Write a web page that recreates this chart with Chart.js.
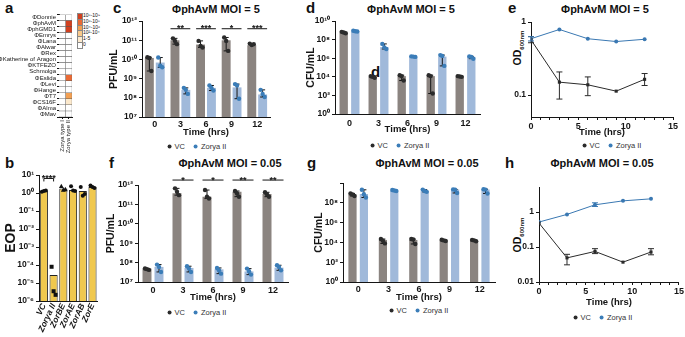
<!DOCTYPE html>
<html>
<head>
<meta charset="utf-8">
<script src="https://cdn.jsdelivr.net/npm/chart.js@4.4.0/dist/chart.umd.min.js"></script>
<style>
  body { margin: 0; background: #fff; width: 685px; height: 337px; overflow: hidden; position: relative;
         font-family: 'Liberation Sans', Arial, Helvetica, sans-serif; color: #111; }
  canvas { position: absolute; }
  .lt { position: absolute; font-weight: bold; font-size: 15px; line-height: 15px; }
  .ttl { position: absolute; font-weight: bold; font-size: 11px; white-space: nowrap; transform: translate(-50%, -50%); }
  .lg { position: absolute; font-size: 7.5px; white-space: nowrap; transform: translate(-50%, -50%); color: #333; }
  .lg i { display: inline-block; width: 4px; height: 4px; border-radius: 50%; margin: 0 3px 0 0; vertical-align: middle; }
  .lg span { margin-right: 9px; }
  .od { position: absolute; font-weight: bold; font-size: 10.5px; white-space: nowrap; transform: translate(-50%, -50%) rotate(-90deg); }
  .od sub { font-size: 6px; }
  .key { position: absolute; left: 77px; top: 13px; font-size: 5px; line-height: 5.8px; }
  .key div { position: relative; height: 5.8px; }
  .key b { position: absolute; left: 0; top: 0; width: 4px; height: 5.3px; border: 0.5px solid #888; }
  .key span { position: absolute; left: 6px; top: 0; white-space: nowrap; }
</style>
</head>
<body>
<div class="lt" style="left:5px;top:0px">a</div>
<div class="lt" style="left:5px;top:155px">b</div>
<div class="lt" style="left:113px;top:0px">c</div>
<div class="lt" style="left:306px;top:0px">d</div>
<div class="lt" style="left:508px;top:0px">e</div>
<div class="lt" style="left:109px;top:155px">f</div>
<div class="lt" style="left:307px;top:155px">g</div>
<div class="lt" style="left:505px;top:155px">h</div>
<div class="lt" style="left:371px;top:64px">d</div>

<div class="ttl" style="left:216px;top:9px">ΦphAvM MOI = 5</div>
<div class="ttl" style="left:411px;top:9px">ΦphAvM MOI = 5</div>
<div class="ttl" style="left:605px;top:9px">ΦphAvM MOI = 5</div>
<div class="ttl" style="left:230px;top:163px">ΦphAvM MOI = 0.05</div>
<div class="ttl" style="left:427px;top:163px">ΦphAvM MOI = 0.05</div>
<div class="ttl" style="left:602px;top:163px">ΦphAvM MOI = 0.05</div>

<div class="lg" style="left:197px;top:146px"><span><i style="background:#2b2b2b"></i>VC</span><i style="background:#3b7db8"></i>Zorya II</div>
<div class="lg" style="left:400px;top:145px"><span><i style="background:#2b2b2b"></i>VC</span><i style="background:#3b7db8"></i>Zorya II</div>
<div class="lg" style="left:612px;top:145px"><span><i style="background:#2b2b2b"></i>VC</span><i style="background:#3b7db8"></i>Zorya II</div>
<div class="lg" style="left:197px;top:312px"><span><i style="background:#2b2b2b"></i>VC</span><i style="background:#3b7db8"></i>Zorya II</div>
<div class="lg" style="left:419px;top:310px"><span><i style="background:#2b2b2b"></i>VC</span><i style="background:#3b7db8"></i>Zorya II</div>
<div class="lg" style="left:603px;top:317px"><span><i style="background:#2b2b2b"></i>VC</span><i style="background:#3b7db8"></i>Zorya II</div>

<div class="od" style="left:518px;top:48px">OD<sub>600nm</sub></div>
<div class="od" style="left:518px;top:235px">OD<sub>600nm</sub></div>

<div class="key" id="key"></div>

<script>
// ---- panel a: heatmap ----
const phages = ['ΦDonnie', 'ΦphAvM', 'ΦphGMD1', 'ΦEmrys', 'ΦLana', 'ΦAlwar', 'ΦRex', 'ΦKatherine of Aragon',
  'ΦKTFEZO', 'Schmolga', 'ΦEslida', 'ΦLevi', 'ΦHange', 'ΦT7', 'ΦCS16F', 'ΦAlma', 'ΦMav'];
const heatCols = ['Zorya type I', 'Zorya type II'];
const typeILevels  = [0, 0, 0, 0, 0, 0, 0, 0, 0, 0, 0, 0, 0, 0, 0, 0, 0];
const typeIILevels = [0, 5, 5, 0, 0, 0, 0, 0, 0, 0, 4, 0, 0, 3, 1, 0, 0];
const heatKey = ['10⁸-10⁹', '10⁶-10⁸', '10⁴-10⁶', '10²-10⁴', '1-5', '0'];   // levels 5..0

// ---- panel b: EOP ----
const eopLabels = ['VC', 'Zorya II', 'ZorBE', 'ZorAE', 'ZorAB', 'ZorE'];
const eopMean = [1.3, 2.8e-5, 1.8, 1.5, 1.3, 2.2];
const eopReps = [[1.2, 1.3, 1.4], [8e-5, 3.5e-6, 2.2e-6], [2.4, 1.5, 1.6], [2.4, 1.4, 1.3], [2.2, 0.7, 0.9], [2.6, 2.2, 1.9]];
const eopTicks = [1e-6, 1e-5, 1e-4, 1e-3, 1e-2, 1e-1, 1, 10];

// ---- shared ----
const times = ['0', '3', '6', '9', '12'];
const lineTimes = [0, 3, 6, 9, 12];
const pfuTicks = [1e7, 1e8, 1e9, 1e10, 1e11, 1e12];
const cfuTicks = [1, 1e2, 1e4, 1e6, 1e8, 1e10];

// ---- panel c: PFU, MOI 5 ----
const cVC = [1.2e10, 1.0e11, 6e10, 1e11, 5.5e10];
const cVCReps = [[1.3e10, 1.2e10, 2.5e9], [1.26e11, 9.3e10, 6.3e10], [9.3e10, 5e10, 4.2e10], [1.4e11, 9.3e10, 2.8e10], [6.7e10, 5.7e10, 6.3e10]];
const cZor = [6.9e9, 2.6e8, 3.3e8, 3.5e8, 1.5e8];
const cZorReps = [[1.26e10, 4.7e9, 3.9e9], [3.3e8, 2.6e8, 1.6e8], [4.4e8, 3.3e8, 2.4e8], [5.2e8, 4.4e8, 9e7], [2.6e8, 1.6e8, 1.1e8]];
const cSig = ['', '**', '***', '*', '***'];

// ---- panel d: CFU, MOI 5 ----
const dVC = [6e8, 1e4, 1.2e4, 1.2e4, 1.1e4];
const dVCReps = [[7e8, 6e8, 5e8], [1.2e4, 1e4, 8e3], [1.5e4, 1.2e4, 4e3], [1.5e4, 1.2e4, 1.6e2], [1.2e4, 1.1e4, 1e4]];
const dZor = [8e8, 1.6e7, 1.5e6, 1.5e6, 1.4e6];
const dZorReps = [[9e8, 8e8, 7.5e8], [3.5e7, 1.5e7, 1e7], [1.6e6, 1.5e6, 1.4e6], [2.2e6, 1.8e6, 1.5e5], [1.6e6, 1.4e6, 9e5]];

// ---- panel e: OD, MOI 5 ----
const eVC = [0.57, 0.15, 0.138, 0.113, 0.164];
const eVCLo = [0.52, 0.088, 0.098, null, 0.135];
const eVCHi = [0.63, 0.207, 0.177, null, 0.197];
const eZor = [0.59, 0.79, 0.59, 0.54, 0.58];

// ---- panel f: PFU, MOI 0.05 ----
const fVC = [4.9e7, 3.8e11, 2.5e11, 4.5e11, 3.4e11];
const fVCReps = [[5e7, 4.6e7, 4.2e7], [6.7e11, 4.5e11, 3e11], [5.5e11, 2.5e11, 2e11], [4.9e11, 3.7e11, 2.5e11], [4.2e11, 3.3e11, 2.5e11]];
const fZor = [6e7, 5.3e7, 4.5e7, 3.5e7, 5.5e7];
const fZorReps = [[7.9e7, 6e7, 3.3e7], [6.5e7, 4.9e7, 3.3e7], [5.3e7, 4e7, 2.7e7], [4.9e7, 3.6e7, 2.4e7], [7.3e7, 6e7, 4e7]];
const fSig = ['', '*', '*', '**', '**'];

// ---- panel g: CFU, MOI 0.05 ----
const gVC = [7e8, 1.8e4, 1.8e4, 1.7e4, 1.6e4];
const gVCReps = [[9e8, 7e8, 5e8], [2.2e4, 1.5e4, 8e3], [2.2e4, 2e4, 7e3], [1.9e4, 1.6e4, 1.4e4], [1.8e4, 1.6e4, 1.3e4]];
const gZor = [8e8, 1.8e9, 1.5e9, 2.2e9, 2.2e9];
const gZorReps = [[2.1e9, 7.6e8, 3.5e8], [2e9, 1.8e9, 1.6e9], [2.2e9, 1.6e9, 1.3e9], [2.3e9, 2.1e9, 1e9], [2.4e9, 2.2e9, 9e8]];

// ---- panel h: OD, MOI 0.05 ----
const hVC = [0.485, 0.049, 0.075, 0.037, 0.072];
const hVCLo = [null, 0.031, 0.065, null, 0.06];
const hVCHi = [null, 0.062, 0.09, null, 0.09];
const hZor = [0.52, 0.86, 1.62, 2.1, 2.4];
const hZorLo = [null, null, 1.45, null, null];
const hZorHi = [null, null, 1.85, null, null];

// ------------------------------------------------------------
const FAM = "'Liberation Sans', Arial, Helvetica, sans-serif";
Chart.defaults.font.family = FAM;
Chart.defaults.color = '#111';
Chart.defaults.animation = false;
Chart.defaults.responsive = false;
Chart.defaults.devicePixelRatio = 1;
Chart.defaults.plugins.legend.display = false;
Chart.defaults.plugins.tooltip.enabled = false;

const INK = '#151515';
const GREY = '#8b8480', BLUE = '#a0b9da', DOT_VC = '#2b2b2b', DOT_Z = '#3b7db8';
const heatColors = ['#ffffff', '#fce9cc', '#f9c98b', '#f3a052', '#ea6a34', '#d2401f'];

const SUP = { '0': '⁰', '1': '¹', '2': '²', '3': '³', '4': '⁴', '5': '⁵', '6': '⁶', '7': '⁷', '8': '⁸', '9': '⁹', '-': '⁻' };
const pow10 = v => '10' + String(Math.round(Math.log10(v))).split('').map(c => SUP[c]).join('');

function canvasAt(x, y, w, h) {
  const c = document.createElement('canvas');
  c.width = w; c.height = h;
  c.style.left = x + 'px'; c.style.top = y + 'px';
  document.body.appendChild(c);
  return c;
}

function drawMark(ctx, style, x, y, r) {
  ctx.beginPath();
  if (style === 'rect') ctx.rect(x - r, y - r, 2 * r, 2 * r);
  else if (style === 'triangle') { ctx.moveTo(x, y - r * 1.3); ctx.lineTo(x + r * 1.2, y + r * 0.9); ctx.lineTo(x - r * 1.2, y + r * 0.9); ctx.closePath(); }
  else ctx.arc(x, y, r, 0, Math.PI * 2);
  ctx.fill();
}

function errBar(ctx, x, y1, y2, cap) {
  ctx.beginPath();
  ctx.moveTo(x, y1); ctx.lineTo(x, y2);
  ctx.moveTo(x - cap, y1); ctx.lineTo(x + cap, y1);
  ctx.moveTo(x - cap, y2); ctx.lineTo(x + cap, y2);
  ctx.stroke();
}

// replicate dots (and min-max error bars) on top of each bar
const repsPlugin = {
  id: 'reps',
  afterDatasetsDraw(chart) {
    const ctx = chart.ctx, ys = chart.scales.y;
    chart.data.datasets.forEach((ds, di) => {
      if (!ds.reps) return;
      chart.getDatasetMeta(di).data.forEach((bar, i) => {
        const r = ds.reps[i];
        ctx.save();
        if (!ds.noErr) {
          ctx.strokeStyle = INK; ctx.lineWidth = 1;
          errBar(ctx, bar.x, ys.getPixelForValue(Math.min(...r)), ys.getPixelForValue(Math.max(...r)), 2.5);
        }
        ctx.fillStyle = ds.dotColor;
        r.forEach((v, k) => drawMark(ctx, ds.dotStyle ? ds.dotStyle[i] : 'circle',
          bar.x + (k - 1) * 2, ys.getPixelForValue(v), ds.dotSize || 2.2));
        ctx.restore();
      });
    });
  }
};

// significance brackets
const sigPlugin = {
  id: 'sig',
  afterDatasetsDraw(chart, args, o) {
    if (!o.marks) return;
    const ctx = chart.ctx, y = chart.scales.y.getPixelForValue(o.level);
    ctx.save();
    ctx.strokeStyle = INK; ctx.fillStyle = INK; ctx.lineWidth = 1;
    ctx.font = 'bold 9px ' + FAM; ctx.textAlign = 'center'; ctx.textBaseline = 'alphabetic';
    o.marks.forEach((m, i) => {
      if (!m) return;
      let x0, x1;
      if (o.across) {
        const d = chart.getDatasetMeta(0).data; x0 = d[i].x; x1 = d[i + 1].x;
      } else {
        const a = chart.getDatasetMeta(0).data[i], b = chart.getDatasetMeta(1).data[i];
        x0 = a.x - a.width / 2; x1 = b.x + b.width / 2;
      }
      ctx.beginPath();
      ctx.moveTo(x0, y + (o.leg || 0)); ctx.lineTo(x0, y); ctx.lineTo(x1, y); ctx.lineTo(x1, y + (o.leg || 0));
      ctx.stroke();
      ctx.fillText(m, (x0 + x1) / 2, y + 2.5);
    });
    ctx.restore();
  }
};

// error bars on line charts
const errPlugin = {
  id: 'err',
  afterDatasetsDraw(chart) {
    const ctx = chart.ctx, ys = chart.scales.y;
    chart.data.datasets.forEach((ds, di) => {
      if (!ds.errLo) return;
      ctx.save(); ctx.strokeStyle = ds.borderColor; ctx.lineWidth = 1;
      chart.getDatasetMeta(di).data.forEach((pt, i) => {
        if (ds.errLo[i] == null) return;
        errBar(ctx, pt.x, ys.getPixelForValue(ds.errLo[i]), ys.getPixelForValue(ds.errHi[i]), 3);
      });
      ctx.restore();
    });
  }
};

function logY(min, max, ticks, width, title, fmt) {
  return {
    type: 'logarithmic', min, max,
    afterBuildTicks: s => { s.ticks = ticks.map(v => ({ value: v })); },
    afterFit: s => { s.width = width; },
    ticks: { callback: fmt, font: { size: 8.5, weight: 'bold' }, color: INK, padding: 2, autoSkip: false },
    grid: { drawOnChartArea: false, tickLength: 3, color: INK, tickColor: INK },
    border: { color: INK, width: 1 },
    title: title ? { display: true, text: title, font: { size: 10.5, weight: 'bold' }, color: INK, padding: 0 } : { display: false }
  };
}

function catX(height, pad) {
  return {
    type: 'category', offset: true,
    afterFit: s => { s.height = height; },
    ticks: { font: { size: 9, weight: 'bold' }, color: INK, padding: pad, maxRotation: 0 },
    grid: { display: true, drawOnChartArea: false, drawTicks: false },
    border: { color: INK, width: 1 },
    title: { display: true, text: 'Time (hrs)', font: { size: 9.5, weight: 'bold' }, color: INK, padding: 0 }
  };
}

function barPanel(box, vc, vcReps, zor, zorReps, yAxis, sig, barPct) {
  const plugins = { sig: sig || {} };
  new Chart(canvasAt(box.x, box.y, box.w, box.h), {
    type: 'bar',
    data: {
      labels: times,
      datasets: [
        { label: 'VC', data: vc, reps: vcReps, dotColor: DOT_VC, backgroundColor: GREY, categoryPercentage: barPct[0], barPercentage: barPct[1] },
        { label: 'Zorya II', data: zor, reps: zorReps, dotColor: DOT_Z, backgroundColor: BLUE, categoryPercentage: barPct[0], barPercentage: barPct[1] }
      ]
    },
    options: {
      layout: { padding: box.pad },
      scales: { x: catX(box.xH, box.tp), y: yAxis },
      plugins
    },
    plugins: [repsPlugin, sigPlugin]
  });
}

function linePanel(box, vc, vcLo, vcHi, zor, zorLo, zorHi, yMin, yMax, yTicks) {
  const pts = arr => lineTimes.map((t, i) => ({ x: t, y: arr[i] }));
  new Chart(canvasAt(box.x, box.y, box.w, box.h), {
    type: 'line',
    data: {
      datasets: [
        { label: 'VC', data: pts(vc), errLo: vcLo, errHi: vcHi, borderColor: '#2b2b2b', backgroundColor: '#2b2b2b',
          borderWidth: 1, pointStyle: 'rect', pointRadius: 2.2, pointBorderWidth: 0 },
        { label: 'Zorya II', data: pts(zor), errLo: zorLo, errHi: zorHi, borderColor: '#3a78b2', backgroundColor: '#3a78b2',
          borderWidth: 1, pointStyle: 'circle', pointRadius: 2, pointBorderWidth: 0 }
      ]
    },
    options: {
      layout: { padding: box.pad },
      scales: {
        x: {
          type: 'linear', min: 0, max: 15,
          afterFit: s => { s.height = box.xH; },
          ticks: { stepSize: 1, autoSkip: false, maxRotation: 0, callback: v => (v % 5 === 0 ? v : ''),
                   font: { size: 9, weight: 'bold' }, color: INK, padding: 1 },
          grid: { drawOnChartArea: false, tickLength: 3, color: INK },
          border: { color: INK, width: 1 },
          title: { display: true, text: 'Time (hrs)', font: { size: 9.5, weight: 'bold' }, color: INK, padding: 0 }
        },
        y: logY(yMin, yMax, yTicks, box.yW, '', v => String(v))
      }
    },
    plugins: [errPlugin]
  });
}

// ---- a: heatmap as stacked horizontal bars ----
new Chart(canvasAt(0, 10, 105, 150), {
  type: 'bar',
  data: {
    labels: phages,
    datasets: [
      { label: heatCols[0], data: phages.map(() => 1), backgroundColor: typeILevels.map(l => heatColors[l]),
        borderColor: '#555', borderWidth: 0.5, barPercentage: 1, categoryPercentage: 1 },
      { label: heatCols[1], data: phages.map(() => 1), backgroundColor: typeIILevels.map(l => heatColors[l]),
        borderColor: '#555', borderWidth: 0.5, barPercentage: 1, categoryPercentage: 1 }
    ]
  },
  options: {
    indexAxis: 'y',
    layout: { padding: { left: 0, top: 3, right: 33, bottom: 0 } },
    scales: {
      x: {
        type: 'linear', stacked: true, min: 0, max: 2,
        afterBuildTicks: s => { s.ticks = [{ value: 0.5 }, { value: 1.5 }]; },
        afterFit: s => { s.height = 43; },
        ticks: { callback: v => heatCols[Math.floor(v)], minRotation: 90, maxRotation: 90, autoSkip: false,
                 font: { size: 6 }, color: INK, padding: 1 },
        grid: { drawOnChartArea: false, tickLength: 2, color: INK },
        border: { color: INK, width: 1 }
      },
      y: {
        stacked: true,
        afterFit: s => { s.width = 59; },
        ticks: { autoSkip: false, font: { size: 6 }, color: INK, padding: 1 },
        grid: { drawOnChartArea: false, tickLength: 2, color: INK },
        border: { color: INK, width: 1 }
      }
    }
  }
});
document.getElementById('key').innerHTML = heatKey.map((t, i) =>
  `<div><b style="background:${heatColors[5 - i]}"></b><span>${t}</span></div>`).join('');

// ---- b: EOP ----
const eopMarks = ['circle', 'rect', 'triangle', 'circle', 'circle', 'circle'];
new Chart(canvasAt(0, 168, 103, 169), {
  type: 'bar',
  data: {
    labels: eopLabels,
    datasets: [{ label: 'EOP', data: eopMean, reps: eopReps, noErr: true, dotColor: '#111', dotStyle: eopMarks, dotSize: 2,
                 backgroundColor: '#f0c84e', borderColor: '#222', borderWidth: 1, categoryPercentage: 0.95, barPercentage: 0.88 }]
  },
  options: {
    layout: { padding: { left: 0, top: 7, right: 3, bottom: 0 } },
    scales: {
      x: {
        type: 'category', offset: true,
        afterFit: s => { s.height = 36; },
        ticks: { font: { size: 8.5, weight: 'bold', style: 'italic' }, color: INK, padding: 1, minRotation: 65, maxRotation: 65, autoSkip: false },
        grid: { display: true, drawOnChartArea: false, drawTicks: false },
        border: { color: INK, width: 1 }
      },
      y: Object.assign(logY(1e-6, 10, eopTicks, 39, 'EOP', pow10),
        { title: { display: true, text: 'EOP', font: { size: 14, weight: 'bold' }, color: INK, padding: { top: 3, bottom: 0 } } })
    },
    plugins: { sig: { marks: ['****'], level: 6.5, leg: 3, across: true } }
  },
  plugins: [repsPlugin, sigPlugin]
});

// ---- c, d, f, g: bar panels ----
barPanel({ x: 108, y: 14, w: 172, h: 124, pad: { left: 0, top: 6, right: 10, bottom: 0 }, xH: 21, tp: 2 },
  cVC, cVCReps, cZor, cZorReps, logY(1e7, 1e12, pfuTicks, 34, 'PFU/mL', pow10),
  { marks: cSig, level: 4e11 }, [0.85, 0.82]);

barPanel({ x: 305, y: 14, w: 185, h: 121, pad: { left: 0, top: 7, right: 10, bottom: 0 }, xH: 21, tp: 4 },
  dVC, dVCReps, dZor, dZorReps, logY(1, 1e10, cfuTicks, 30, 'CFU/mL', pow10), null, [0.8, 0.72]);

barPanel({ x: 105, y: 170, w: 185, h: 133, pad: { left: 0, top: 15, right: 2, bottom: 0 }, xH: 21, tp: 3 },
  fVC, fVCReps, fZor, fZorReps, logY(1e7, 1e12, pfuTicks, 33, 'PFU/mL', pow10),
  { marks: fSig, level: 1.8e12 }, [0.8, 0.75]);

barPanel({ x: 313, y: 176, w: 185, h: 127, pad: { left: 0, top: 7, right: 3, bottom: 0 }, xH: 21, tp: 2 },
  gVC, gVCReps, gZor, gZorReps, logY(1, 1e10, cfuTicks, 30, 'CFU/mL', v => (v >= 1e10 ? '' : pow10(v))), null, [0.75, 0.72]);

// ---- e, h: OD growth curves ----
linePanel({ x: 505, y: 14, w: 178, h: 124, pad: { left: 0, top: 8, right: 10, bottom: 0 }, xH: 21, yW: 26 },
  eVC, eVCLo, eVCHi, eZor, [0.55, null, null, null, null], [0.63, null, null, null, null], 0.05, 1, [0.1, 1]);

linePanel({ x: 513, y: 180, w: 172, h: 128, pad: { left: 0, top: 7, right: 5, bottom: 0 }, xH: 26, yW: 26 },
  hVC, hVCLo, hVCHi, hZor, hZorLo, hZorHi, 0.01, 5.2, [0.01, 0.1, 1]);
</script>
</body>
</html>
